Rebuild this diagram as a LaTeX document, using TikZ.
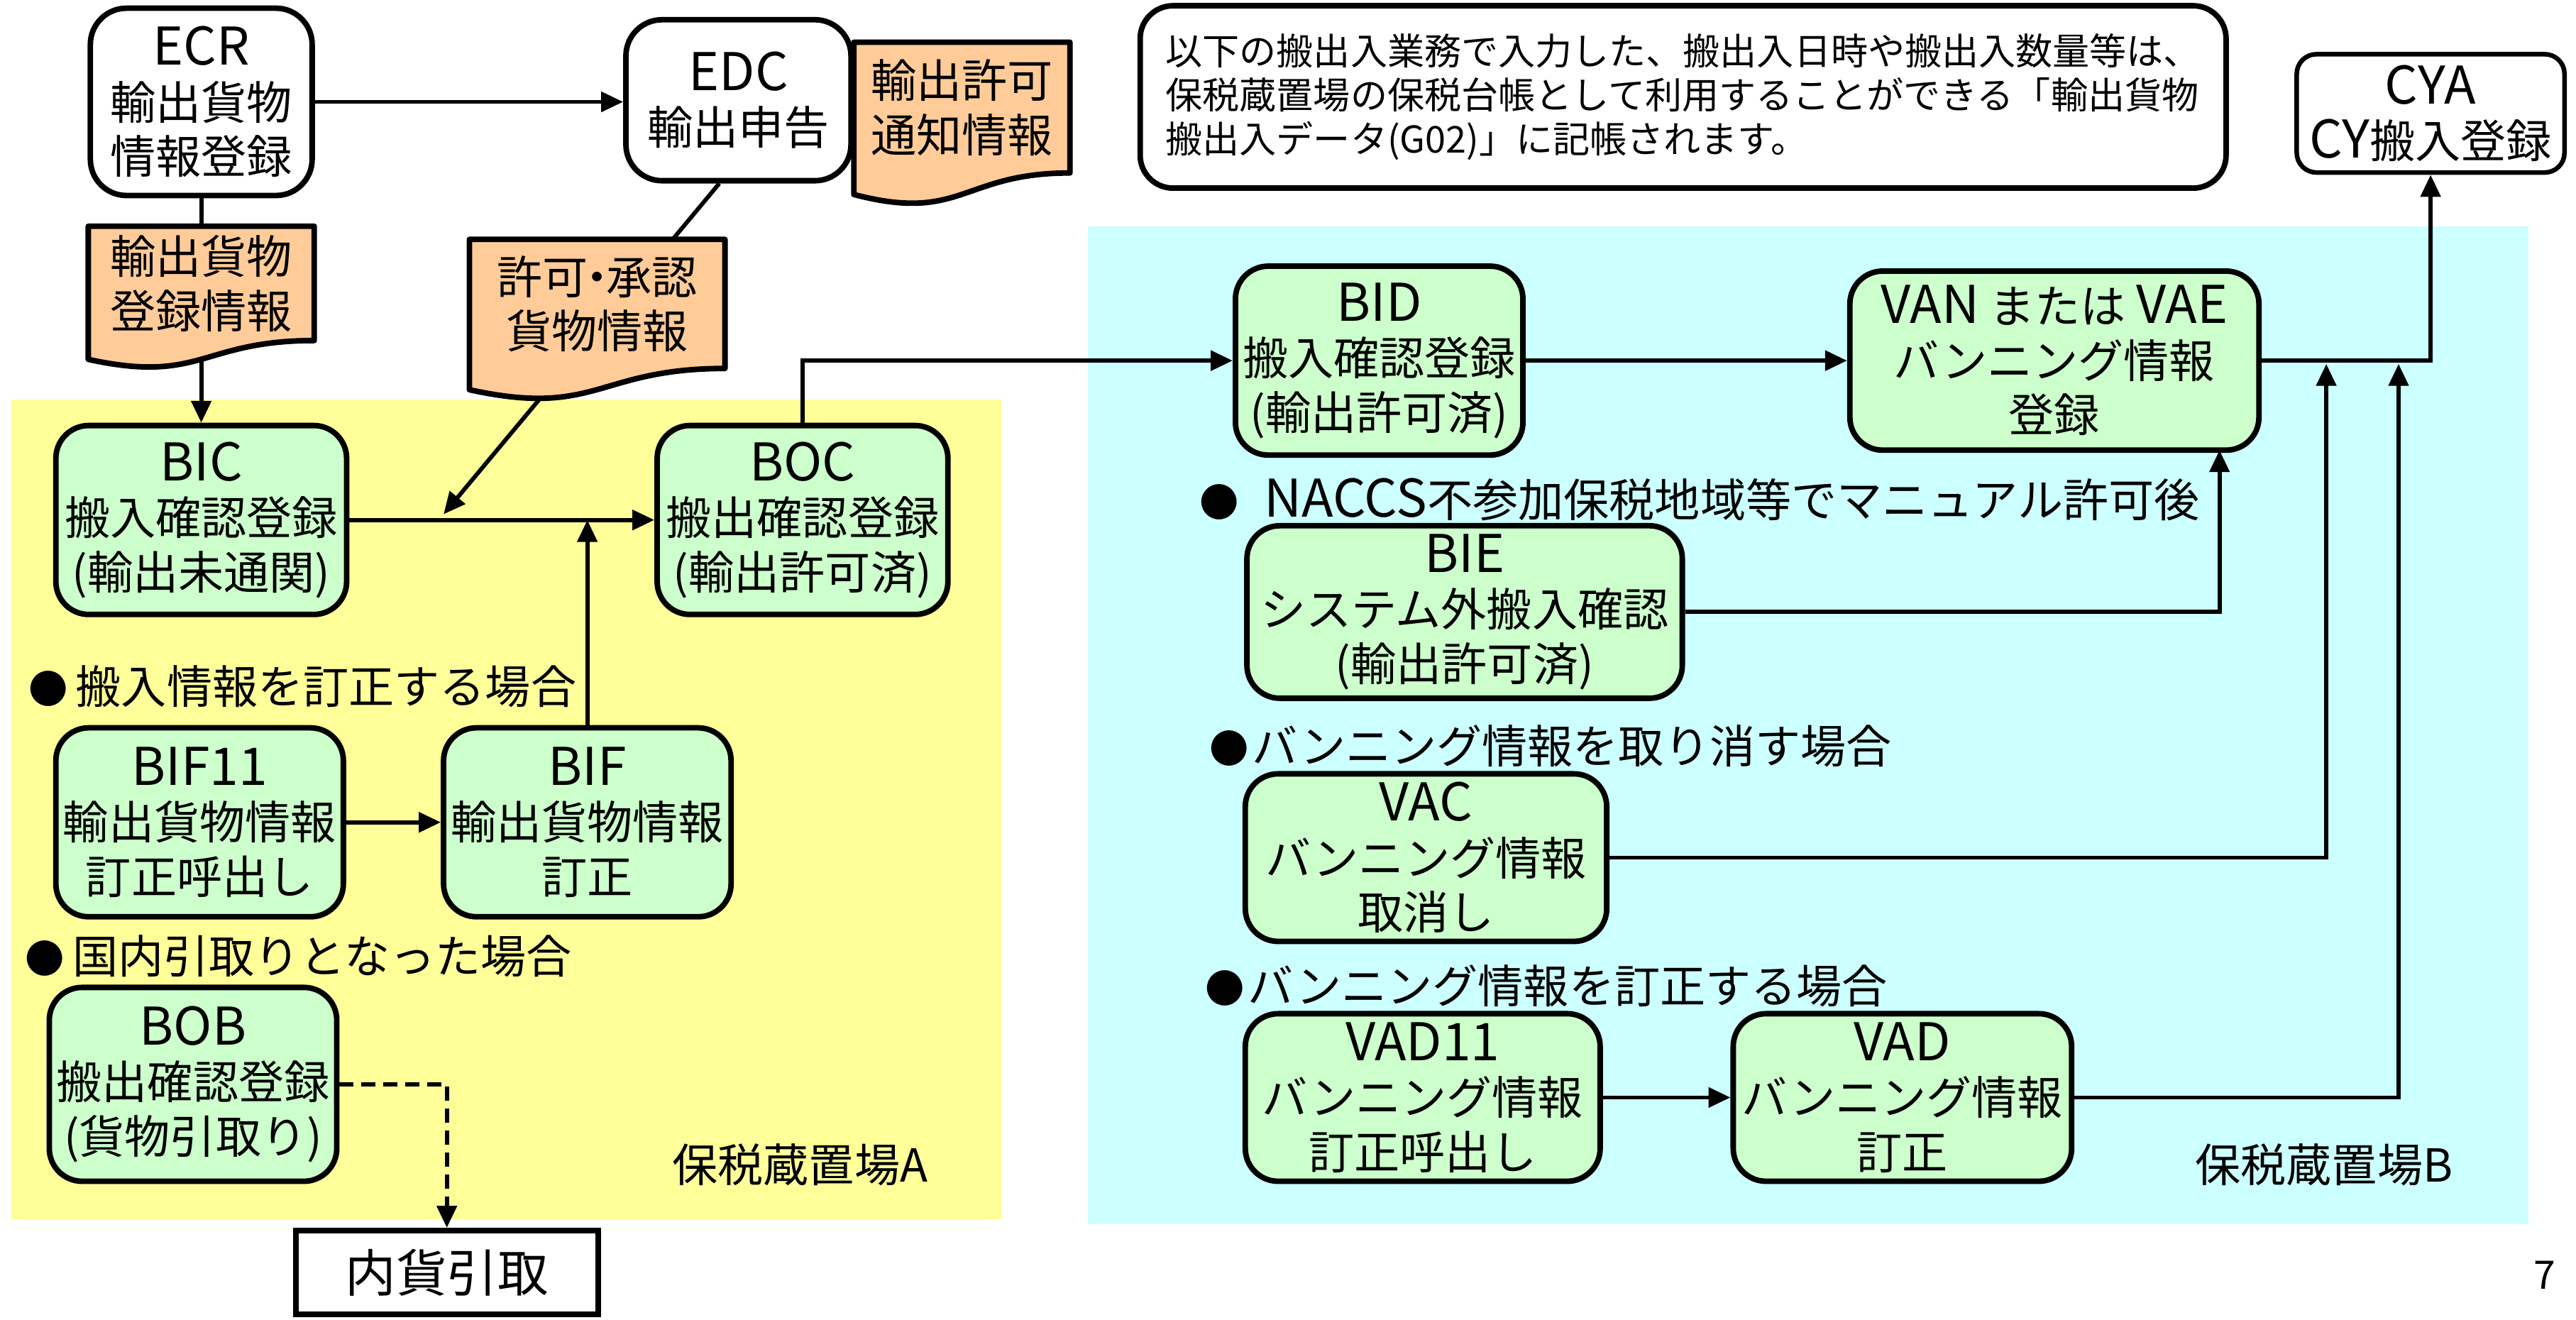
\documentclass[tikz,border=0pt]{standalone}
\usepackage{fontspec}
\setmainfont{Noto Sans CJK JP}
\usetikzlibrary{arrows.meta,calc}
\pgfdeclarelayer{bg}\pgfdeclarelayer{lines}\pgfdeclarelayer{docs}
\pgfsetlayers{bg,lines,docs,main}
\definecolor{grn}{HTML}{CCFFCC}
\definecolor{org}{HTML}{FFCC99}
\definecolor{ylw}{HTML}{FFFF99}
\definecolor{cyn}{HTML}{CCFFFF}
\tikzset{
 sz/.style 2 args={minimum width={#1*0.025cm}, minimum height={#2*0.025cm}},
 boxtext/.style={font=\fontsize{19.7pt}{23.5pt}\selectfont, align=center, inner sep=0pt},
 whitebox/.style={boxtext, draw, line width=2.4pt, fill=white, rounded corners=0.55cm},
 greenbox/.style={boxtext, draw, line width=2.4pt, fill=grn, rounded corners=0.5cm},
 docnode/.style={boxtext},
 docshape/.style={draw, line width=2.4pt, fill=org, line join=round},
 conn/.style={line width=1.8pt},
 arr/.style={conn, -{Triangle[length=9.5pt,width=8.5pt]}},
 lbl/.style={font=\fontsize{19.7pt}{23.5pt}\selectfont, anchor=west, inner sep=0pt},
}
\newcommand{\docoutline}[1]{%
 \begin{pgfonlayer}{docs}
 \path[docshape] let \p1=(#1.north), \p2=(#1.south), \n1={\y1-\y2} in
  (#1.north west) -- (#1.north east) -- (#1.south east)
  .. controls (#1.south) and ($(#1.south)+(0pt,-0.3815*\n1)$) ..
  ($(#1.south west)+(0pt,-0.1646*\n1)$) -- cycle;
 \end{pgfonlayer}}
\newcommand{\bul}{{\fontsize{17pt}{17pt}\selectfont ●}}
\newcommand{\cd}[1]{{\fontsize{22.5pt}{23.5pt}\selectfont #1}}
\begin{document}
\begin{tikzpicture}[x=0.025cm, y=-0.025cm]
\useasboundingbox (0,0) rectangle (1568,803.4);
\begin{pgfonlayer}{bg}
 \fill[ylw] (7,243) rectangle (610,742);
 \fill[cyn] (662,138) rectangle (1539,745);
\end{pgfonlayer}

% top row
\node[whitebox, sz={135}{114}] (ECR) at (122.5,62) {\cd{ECR}\\輸出貨物\\情報登録};
\node[whitebox, sz={137}{98}] (EDC) at (449.5,61) {\cd{EDC}\\輸出申告};
\node[docnode, sz={137}{69}] (d1) at (122.5,172.5) {輸出貨物\\登録情報};
\node[docnode, sz={155}{78}] (d2) at (363.5,185) {許可\kern-0.3em・\kern-0.3em承認\\貨物情報};
\node[docnode, sz={131}{79}] (d3) at (585.5,65.5) {輸出許可\\通知情報};
\docoutline{d1}\docoutline{d2}\docoutline{d3}
\node[draw, line width=2.4pt, fill=white, rounded corners=0.5cm, sz={661}{111},
      align=left, font=\fontsize{16pt}{18.9pt}\selectfont, inner sep=0pt] (note) at (1024.5,59)
 {以下の搬出入業務で入力した、搬出入日時や搬出入数量等は、\\保税蔵置場の保税台帳として利用することができる「輸出貨物\\搬出入データ(G02)」に記帳されます。};
\node[whitebox, rounded corners=0.3cm, line width=2pt, sz={163}{72}] (CYA) at (1479.5,69) {\cd{CYA}\\\cd{CY}搬入登録};

% area A
\node[greenbox, sz={177}{115}] (BIC) at (122.5,316.5) {\cd{BIC}\\搬入確認登録\\(輸出未通関)};
\node[greenbox, sz={177}{115}] (BOC) at (488.5,316.5) {\cd{BOC}\\搬出確認登録\\(輸出許可済)};
\node[lbl] (l1) at (17,418) {\bul\hspace{3.5pt}搬入情報を訂正する場合};
\node[greenbox, sz={175}{115}] (BIF11) at (121.5,500.5) {\cd{BIF11}\\輸出貨物情報\\訂正呼出し};
\node[greenbox, sz={175}{115}] (BIF) at (357.5,500.5) {\cd{BIF}\\輸出貨物情報\\訂正};
\node[lbl] (l2) at (15,582) {\bul\hspace{3.5pt}国内引取りとなった場合};
\node[greenbox, sz={175}{118}] (BOB) at (117.5,660) {\cd{BOB}\\搬出確認登録\\(貨物引取り)};
\node[draw, line width=2.4pt, fill=white, sz={184}{51}, font=\fontsize{22pt}{26pt}\selectfont, inner sep=0pt] (naika) at (272,774.5) {内貨引取};
\node[lbl] (la) at (409,709) {保税蔵置場A};

% area B
\node[greenbox, sz={175}{115}] (BID) at (839.5,219.5) {\cd{BID}\\搬入確認登録\\(輸出許可済)};
\node[greenbox, sz={249}{109}] (VAN) at (1250.5,219.5) {\cd{VAN} または \cd{VAE}\\バンニング情報\\登録};
\node[lbl] (l3) at (730,304) {\bul\hspace{11pt}\cd{NACCS}不参加保税地域等でマニュアル許可後};
\node[greenbox, sz={265}{105}] (BIE) at (891.5,372.5) {\cd{BIE}\\システム外搬入確認\\(輸出許可済)};
\node[lbl] (l4) at (736,454) {\bul\hspace{1.5pt}バンニング情報を取り消す場合};
\node[greenbox, sz={220}{102}] (VAC) at (868,522) {\cd{VAC}\\バンニング情報\\取消し};
\node[lbl] (l5) at (733.5,600) {\bul\hspace{1.5pt}バンニング情報を訂正する場合};
\node[greenbox, sz={216}{102}] (VAD11) at (866,668) {\cd{VAD11}\\バンニング情報\\訂正呼出し};
\node[greenbox, sz={206}{102}] (VAD) at (1158,668) {\cd{VAD}\\バンニング情報\\訂正};
\node[lbl] (lb) at (1336,709) {保税蔵置場B};
\node[font=\fontsize{17pt}{20pt}\selectfont, inner sep=0pt] (pg) at (1549,776) {7};

\coordinate (m) at (270,313);
\coordinate (vb) at (1351,274);
\coordinate (j1) at (1416,221.5);
\coordinate (j2) at (1460,221.5);

\begin{pgfonlayer}{lines}
 \draw[arr] (ECR.east) -- (ECR.east -| EDC.west);
 \draw[conn] (ECR.south) -- (d1.center);
 \draw[arr] (d1.center) -- (BIC.north);
 \draw[arr] (EDC.-103) -- (m);
 \draw[arr] (BIC.east) -- (BOC.west);
 \draw[arr] (BIF.north) -- (BIF.north |- BIC.east);
 \draw[arr] (BIF11.east) -- (BIF.west);
 \draw[conn, dash pattern=on 6pt off 3.5pt, -{Triangle[length=9.5pt,width=8.5pt]}] (BOB.east) -| (naika.north);
 \draw[arr] (BOC.north) |- (BID.west);
 \draw[arr] (BID.east) -- (VAN.west);
 \draw[arr] (VAN.east) -| (CYA.south);
 \draw[arr] (BIE.east) -| (vb);
 \draw[arr] (VAC.east) -| (j1);
 \draw[arr] (VAD11.east) -- (VAD.west);
 \draw[arr] (VAD.east) -| (j2);
\end{pgfonlayer}
\end{tikzpicture}
\end{document}
